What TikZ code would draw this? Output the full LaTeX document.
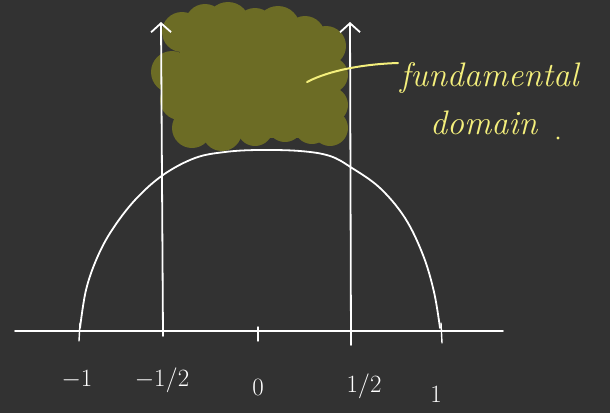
\documentclass[tikz,border=0pt]{standalone}
\usetikzlibrary{arrows.meta}
\definecolor{bg}{HTML}{323232}
\definecolor{olive}{HTML}{6C6C25}
\definecolor{hl}{HTML}{F4EF7C}
\begin{document}
\begin{tikzpicture}[x=1pt,y=-1pt,
  chalk/.style={draw=white,line width=1.8pt,line cap=round,line join=round},
  arrowline/.style={chalk,-{Straight Barb[length=9pt,width=20pt,line width=1.8pt]}},
  ticklabel/.style={text=white,font=\fontsize{27}{30}\selectfont,inner sep=0pt},
  notetext/.style={text=hl,font=\fontsize{34}{38}\selectfont\itshape,inner sep=0pt},
  blob/.style={fill=olive}]
\fill[bg] (0,0) rectangle (610,413);
\useasboundingbox (0,0) rectangle (610,413);
% fundamental domain shading
\fill[blob] (180,28) rectangle (335,138);
\foreach \cx/\cy/\r in {
  182/32/20, 205/24/20, 228/24/22, 255/28/20, 278/28/22, 305/36/20, 326/46/20,
  172/72/21, 180/100/20, 330/75/18, 330/105/18,
  192/128/20, 222/131/20, 255/128/18, 285/124/18, 312/126/18, 330/128/18}
  \fill[blob] (\cx,\cy) circle (\r);
% axis
\coordinate (axL) at (15,331);
\coordinate (axR) at (503,331);
\draw[chalk] (axL) -- (axR);
% ticks
\coordinate (tm1) at (80,331);
\coordinate (t0) at (258,331);
\coordinate (tp1) at (441,331);
\draw[chalk,line width=1.4pt] (tm1) ++(0,-8) -- ++(-1,18);
\draw[chalk,line width=1.4pt] (t0) ++(0,-4) -- ++(0,14);
\draw[chalk,line width=1.4pt] (tp1) ++(0,-8) -- ++(1,20);
% vertical lines with arrows
\coordinate (vlTop) at (161,22);
\coordinate (vlBot) at (163,336);
\coordinate (vrTop) at (350,22);
\coordinate (vrBot) at (351,345);
\draw[arrowline] (vlBot) -- (vlTop);
\draw[arrowline] (vrBot) -- (vrTop);
% arc
\draw[chalk] plot[smooth,tension=0.6] coordinates {
  (80,328) (86,290) (97,258) (112,230) (135,200) (163,175) (195,158) (225,152)
  (258,150) (300,151) (330,156) (352,168) (380,188) (405,218) (423,255) (434,292) (440,328)};
% highlighter pointer
\coordinate (pStart) at (307,82);
\coordinate (pEnd) at (398,63);
\draw[draw=hl,line width=2pt,line cap=round] (pStart) .. controls (330,70) and (365,64) .. (pEnd);
% labels
\node[ticklabel] (lm1) at (77,380) {$-1$};
\node[ticklabel] (lmh) at (162,380) {$-1/2$};
\node[ticklabel] (l0) at (258,387) {$0$};
\node[ticklabel] (lph) at (364,386) {$1/2$};
\node[ticklabel] (lp1) at (436,394) {$1$};
\node[notetext,anchor=base west] (fund) at (400,86) {fundamental};
\node[notetext,anchor=base west] (dom) at (430,134) {domain};
\node[circle,fill=hl,inner sep=1.2pt] (dot) at (558,138) {};
\end{tikzpicture}
\end{document}
